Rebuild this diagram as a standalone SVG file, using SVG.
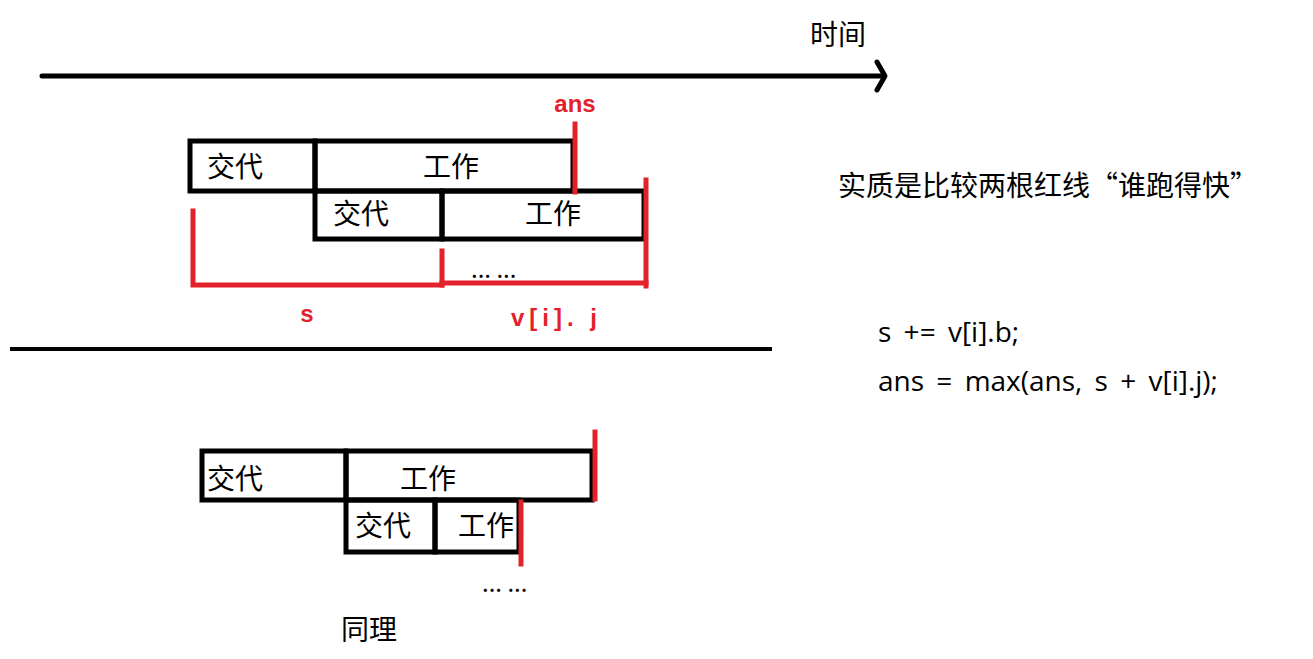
<svg xmlns="http://www.w3.org/2000/svg" width="1313" height="659" viewBox="0 0 1313 659">
<style>
.box{fill:none;stroke:#000;stroke-width:5;stroke-linejoin:miter}
.red{stroke:#e3212b;stroke-width:5;fill:none;stroke-linecap:square}
.blk{stroke:#000;stroke-width:5;fill:none;stroke-linecap:round;stroke-linejoin:round}
.cn{font-family:"Noto Sans CJK SC","Microsoft YaHei",sans-serif;font-size:28px;fill:#000}
.lbl{font-family:"Liberation Sans",Arial,sans-serif;font-weight:bold;font-size:24px;fill:#e3212b}
.code{font-family:"Open Sans","Noto Sans",sans-serif;font-size:28px;fill:#000;word-spacing:5px}
.dots{font-family:"Noto Sans CJK SC",sans-serif;font-size:24px;fill:#000}
</style>
<rect width="1313" height="659" fill="#fff"/>
<g id="timeline">
<line class="blk" x1="42" y1="76" x2="884" y2="76"/>
<polyline class="blk" points="877,62 885,76 877,90"/>
<text class="cn" x="810" y="45">时间</text>
</g>
<g id="top-row1">
<rect class="box" x="190" y="141" width="125" height="50"/>
<rect class="box" x="315" y="141" width="258" height="50"/>
<text class="cn" x="207" y="177">交代</text>
<text class="cn" x="423" y="177">工作</text>
</g>
<g id="top-row2">
<rect class="box" x="315" y="191" width="127" height="48"/>
<rect class="box" x="442" y="191" width="202" height="48"/>
<text class="cn" x="333" y="224">交代</text>
<text class="cn" x="525" y="224">工作</text>
</g>
<g id="top-markers">
<line class="red" x1="575" y1="124" x2="575" y2="192"/>
<line class="red" x1="646" y1="180" x2="646" y2="286"/>
<polyline class="red" points="193,211 193,285 442,285"/>
<line class="red" x1="442" y1="251" x2="442" y2="285"/>
<line class="red" x1="442" y1="283" x2="646" y2="283"/>
<text class="lbl" x="575" y="112" text-anchor="middle">ans</text>
<text class="lbl" x="307" y="322" text-anchor="middle">s</text>
<text class="lbl" x="511" y="326" letter-spacing="5">v[i]. j</text>
<text class="dots" x="471" y="278">... ...</text>
</g>
<g id="separator">
<line x1="10" y1="349" x2="772" y2="349" stroke="#000" stroke-width="4"/>
</g>
<g id="note">
<text class="cn" x="838" y="196">实质是比较两根红线“谁跑得快”</text>
<text class="code" x="878" y="342">s +=  v[i].b;</text>
<text class="code" x="878" y="391">ans = max(ans, s + v[i].j);</text>
</g>
<g id="bottom-row1">
<rect class="box" x="202" y="451" width="144" height="49"/>
<rect class="box" x="346" y="451" width="246" height="49"/>
<text class="cn" x="207" y="489">交代</text>
<text class="cn" x="400" y="489">工作</text>
</g>
<g id="bottom-row2">
<rect class="box" x="346" y="500" width="89" height="52"/>
<rect class="box" x="435" y="500" width="84" height="52"/>
<text class="cn" x="355" y="536">交代</text>
<text class="cn" x="458" y="536">工作</text>
</g>
<g id="bottom-markers">
<line class="red" x1="595" y1="432" x2="595" y2="499"/>
<line class="red" x1="521" y1="502" x2="521" y2="564"/>
<text class="dots" x="482" y="592">... ...</text>
<text class="cn" x="341" y="640">同理</text>
</g>
</svg>
